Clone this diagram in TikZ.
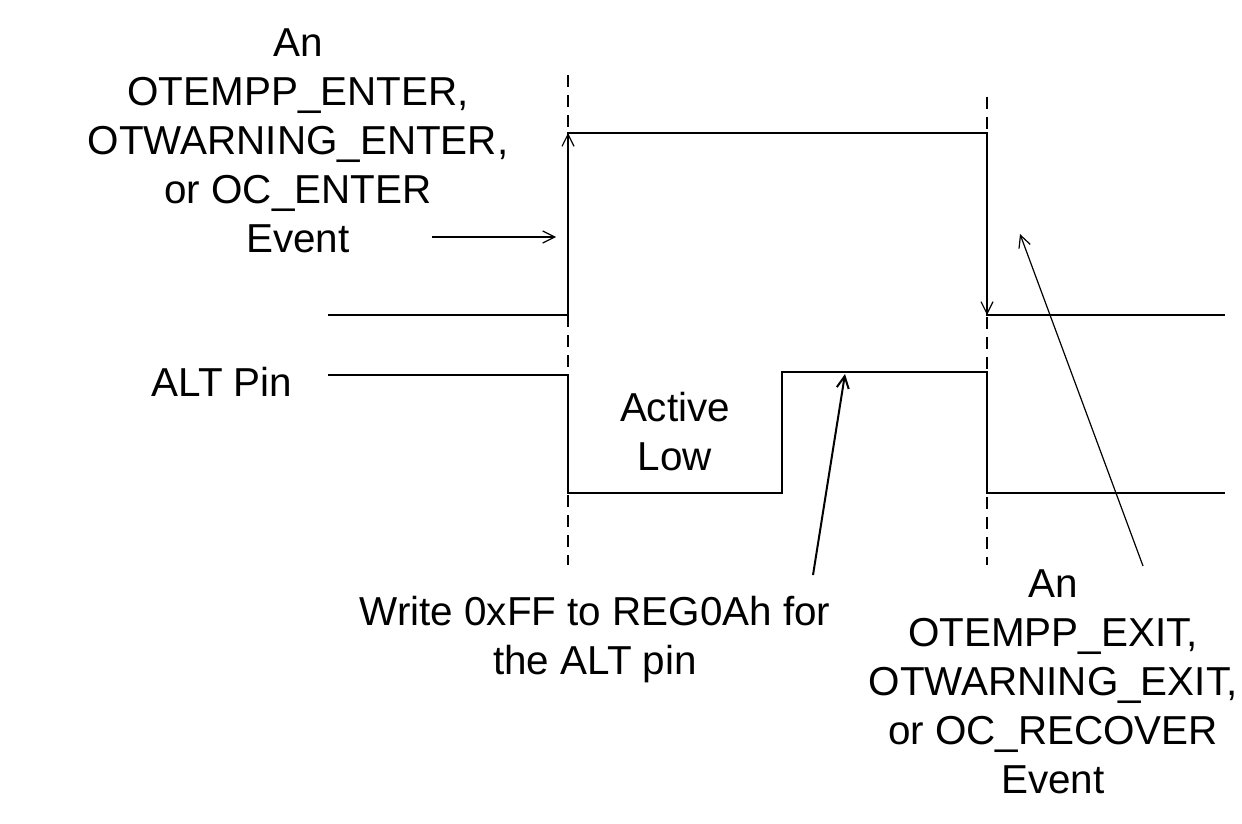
\documentclass[tikz,border=0pt]{standalone}
\usepackage{fontspec}
\setmainfont{Liberation Sans}
\usetikzlibrary{arrows.meta}
\begin{document}
\begin{tikzpicture}[x=0.75pt,y=-0.75pt,
  sig/.style={line width=1pt},
  dsh/.style={line width=0.8pt,dash pattern=on 9pt off 6pt},
  arr/.style={line width=0.9pt,-{Straight Barb[length=9pt,width=9pt]}},
  lbl/.style={font=\fontsize{30.3}{36.8}\selectfont,align=center,inner sep=0pt}]
\useasboundingbox (0,0) rectangle (1242,824);
\draw[dsh] (568,75) -- (568,565);
\draw[dsh] (987,97) -- (987,565);
% top signal
\coordinate (t0) at (328,315);
\coordinate (t1) at (568,315);
\coordinate (t2) at (568,133);
\coordinate (t3) at (987,133);
\coordinate (t4) at (987,315);
\coordinate (t5) at (1225,315);
\draw[sig] (t0) -- (t1) -- (t2) -- (t3) -- (t4) -- (t5);
\draw[arr] (568,160) -- (t2);
\draw[arr] (987,290) -- (t4);
% ALT pin
\draw[sig] (328,375) -- (568,375) -- (568,493) -- (782,493) -- (782,372) -- (987,372) -- (987,493) -- (1225,493);
% labels
\node[lbl] (left) at (298,141) {An\\OTEMPP\_ENTER,\\OTWARNING\_ENTER,\\or OC\_ENTER\\Event};
\node[lbl] (alt) at (222,382) {ALT Pin};
\node[lbl] (al) at (675,432) {Active\\Low};
\node[lbl] (wr) at (595,640) {Write 0xFF to REG0Ah for\\the ALT pin};
\node[lbl] (right) at (1053,682) {An\\OTEMPP\_EXIT,\\OTWARNING\_EXIT,\\or OC\_RECOVER\\Event};
\coordinate (a1s) at (432,237); \coordinate (a1e) at (556,237);
\coordinate (a2s) at (1143,566); \coordinate (a2e) at (1020,234);
\coordinate (a3s) at (813,575); \coordinate (a3e) at (845,374);
\draw[arr] (a1s) -- (a1e);
\draw[arr] (a2s) -- (a2e);
\draw[arr,line width=1.5pt] (a3s) -- (a3e);
\end{tikzpicture}
\end{document}
